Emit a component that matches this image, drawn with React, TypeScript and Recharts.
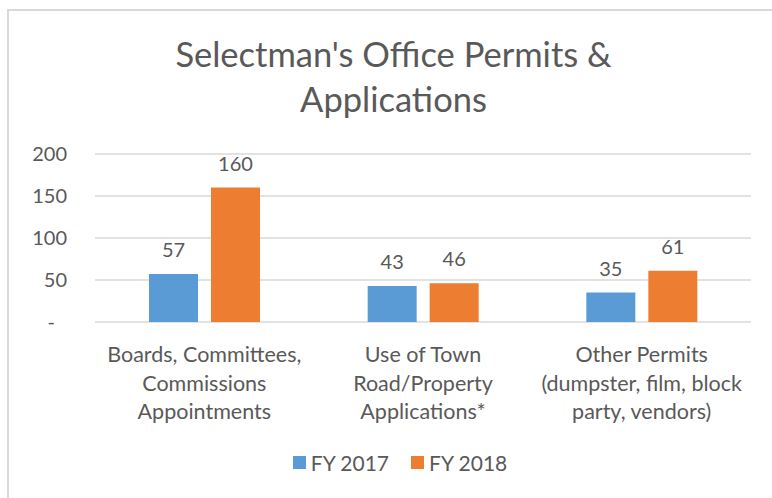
import React from "react";
import { BarChart, Bar, XAxis, YAxis, CartesianGrid, Legend, LabelList } from "recharts";

const categories = [
  "Boards, Committees,\nCommissions\nAppointments",
  "Use of Town\nRoad/Property\nApplications*",
  "Other Permits\n(dumpster, film, block\nparty, vendors)",
];
const fy2017 = [57, 43, 35];
const fy2018 = [160, 46, 61];
const yTicks = [0, 50, 100, 150, 200];

const data = categories.map((name, i) => ({ name, fy2017: fy2017[i], fy2018: fy2018[i] }));

const FONT = "Lato, 'Open Sans', sans-serif";
const TEXT = "#595959";
const BLUE = "#5B9BD5";
const ORANGE = "#ED7D31";

function YTick({ x, y, payload }: any) {
  const v = payload.value;
  return (
    <text x={v === 0 ? x - 12 : x} y={y} dy={7} textAnchor="end" fill={TEXT} fontSize={20} fontFamily={FONT}>
      {v === 0 ? "-" : v}
    </text>
  );
}

function XTick({ x, y, payload }: any) {
  const lines = String(payload.value).split("\n");
  return (
    <text x={x} y={y} textAnchor="middle" fill={TEXT} fontSize={21.5} fontFamily={FONT}>
      {lines.map((l, i) => (
        <tspan key={i} x={x} dy={i === 0 ? 32 : 28.5}>
          {l}
        </tspan>
      ))}
    </text>
  );
}

function LegendContent() {
  const items = [
    { label: "FY 2017", color: BLUE },
    { label: "FY 2018", color: ORANGE },
  ];
  return (
    <div style={{ display: "flex", justifyContent: "center", gap: 22, fontFamily: FONT, fontSize: 21, color: TEXT }}>
      {items.map((it) => (
        <div key={it.label} style={{ display: "flex", alignItems: "center", gap: 5 }}>
          <span style={{ width: 13, height: 13, background: it.color, display: "inline-block" }} />
          <span>{it.label}</span>
        </div>
      ))}
    </div>
  );
}

export default function App() {
  return (
    <div style={{ position: "fixed", left: 0, top: 0, width: 772, height: 498, overflow: "hidden", background: "#fff" }}>
      <div
        style={{
          position: "absolute",
          left: 7,
          top: 9,
          width: 800,
          height: 520,
          border: "2px solid #d9d9d9",
        }}
      />
      <div
        style={{
          position: "absolute",
          left: 0,
          top: 31,
          width: 787,
          textAlign: "center",
          fontFamily: FONT,
          fontSize: 34.5,
          lineHeight: "45px",
          color: TEXT,
        }}
      >
        Selectman's Office Permits &amp;
        <br />
        Applications
      </div>
      <div style={{ position: "absolute", left: 0, top: 0 }}>
        <BarChart
          width={772}
          height={498}
          data={data}
          margin={{ top: 154, right: 21, left: 0, bottom: 0 }}
          barSize={49}
          barGap={13}
        >
          <CartesianGrid stroke="#d9d9d9" strokeWidth={1.5} vertical={false} />
          <XAxis dataKey="name" height={176} axisLine={false} tickLine={false} tick={<XTick />} interval={0} />
          <YAxis
            width={95}
            domain={[0, 200]}
            ticks={yTicks}
            axisLine={false}
            tickLine={false}
            tickSize={0}
            tickMargin={28}
            tick={<YTick />}
          />
          <Legend
            layout="horizontal"
            verticalAlign="middle"
            align="center"
            wrapperStyle={{ top: 450, left: 0, width: 800 }}
            content={<LegendContent />}
          />
          <Bar dataKey="fy2017" name="FY 2017" fill={BLUE} isAnimationActive={false}>
            <LabelList dataKey="fy2017" position="top" offset={17} fill={TEXT} fontSize={20} fontFamily={FONT} />
          </Bar>
          <Bar dataKey="fy2018" name="FY 2018" fill={ORANGE} isAnimationActive={false}>
            <LabelList dataKey="fy2018" position="top" offset={17} fill={TEXT} fontSize={20} fontFamily={FONT} />
          </Bar>
        </BarChart>
      </div>
    </div>
  );
}
